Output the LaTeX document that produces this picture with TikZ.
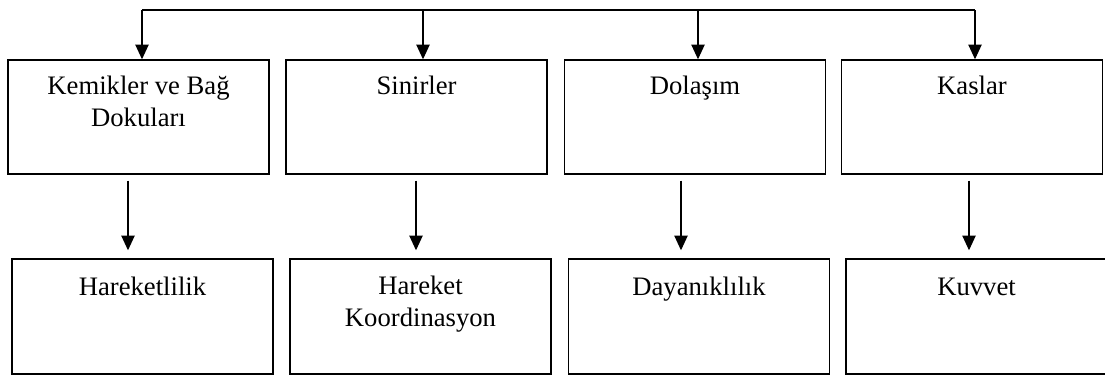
\documentclass[tikz,border=0pt]{standalone}
\usepackage{fontspec}
\setmainfont{Liberation Serif}
\usetikzlibrary{arrows.meta,calc}
\begin{document}
\begin{tikzpicture}[x=0.75pt,y=-0.75pt,
  topbox/.style={draw,line width=1.1pt,rectangle,minimum width=195.75pt,minimum height=85.5pt,inner sep=0pt},
  botbox/.style={draw,line width=1.1pt,rectangle,minimum width=195.75pt,minimum height=86.25pt,inner sep=0pt},
  label/.style={font=\fontsize{20}{24}\selectfont,inner sep=0pt,anchor=base,align=center},
  arr/.style={line width=0.9pt,-{Triangle[length=11pt,width=10pt]}},
  bus/.style={line width=0.9pt}]
\useasboundingbox (0,0) rectangle (1105,376);

% upper row
\node[topbox] (t1) at (138.5,117) {};
\node[topbox] (t2) at (416.5,117) {};
\node[topbox] (t3) at (695,117) {};
\node[topbox] (t4) at (972,117) {};

% lower row
\node[botbox] (b1) at (142.5,316.5) {};
\node[botbox] (b2) at (420.5,316.5) {};
\node[botbox] (b3) at (699,316.5) {};
\node[botbox] (b4) at (976.5,316.5) {};

% labels (base anchor of a two-line label sits on its last line)
\node[label] (l1) at ($(t1.north)+(0,67)$) {Kemikler ve Bağ\\Dokuları};
\node[label] (l2) at ($(t2.north)+(0,35)$) {Sinirler};
\node[label] (l3) at ($(t3.north)+(0,35)$) {Dolaşım};
\node[label] (l4) at ($(t4.north)+(0,35)$) {Kaslar};
\node[label] (m1) at ($(b1.north)+(0,37)$) {Hareketlilik};
\node[label] (m2) at ($(b2.north)+(0,68)$) {Hareket\\Koordinasyon};
\node[label] (m3) at ($(b3.north)+(0,37)$) {Dayanıklılık};
\node[label] (m4) at ($(b4.north)+(0,37)$) {Kuvvet};

% distribution line along the top
\coordinate (busl) at (142,10);
\coordinate (busr) at (975,10);
\draw[bus] (busl) -- (busr);

% entry points on the upper boxes
\coordinate (e1) at ($(t1.north)+(3.5,0)$);
\coordinate (e2) at ($(t2.north)+(6.5,0)$);
\coordinate (e3) at ($(t3.north)+(3,0)$);
\coordinate (e4) at ($(t4.north)+(3,0)$);

% arrows from the top line into the upper boxes
\draw[arr] (busl) -- (e1);
\draw[arr] (e2 |- busl) -- (e2);
\draw[arr] (e3 |- busl) -- (e3);
\draw[arr] (busr) -- (e4);

% arrows from the upper boxes to the lower boxes
\draw[arr] ($(t1.south)+(-10.5,6)$) -- ($(b1.north)+(-14.5,-8)$);
\draw[arr] ($(t2.south)+(-0.5,6)$) -- ($(b2.north)+(-4.5,-8)$);
\draw[arr] ($(t3.south)+(-14,6)$) -- ($(b3.north)+(-18,-8)$);
\draw[arr] ($(t4.south)+(-3,6)$) -- ($(b4.north)+(-7.5,-8)$);
\end{tikzpicture}
\end{document}
